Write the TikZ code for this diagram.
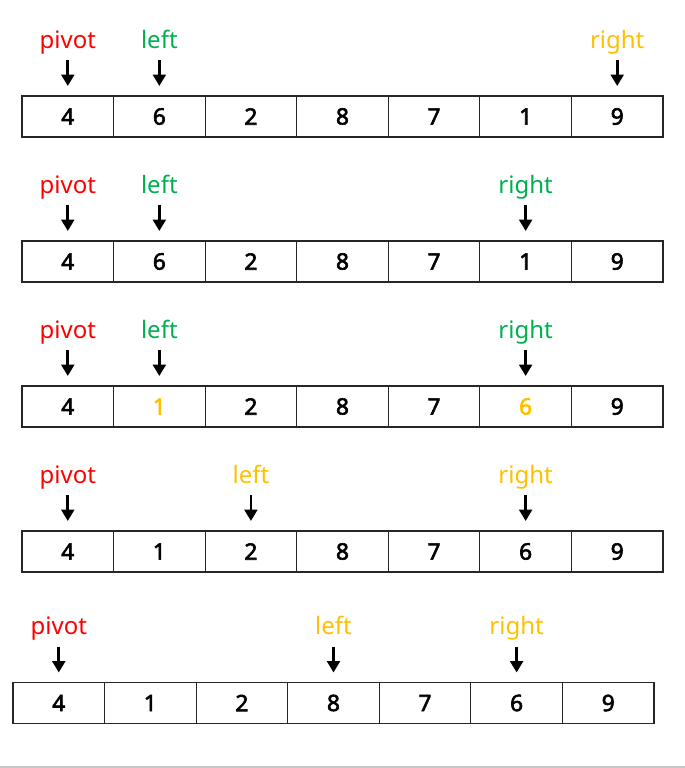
\documentclass[tikz,border=0pt]{standalone}
\usepackage{fontspec}
\setmainfont{Noto Sans}
\newfontfamily\cellfont{Noto Sans}[FakeBold=2.6]
\usetikzlibrary{positioning,arrows.meta,calc}

\definecolor{pivotred}{RGB}{255,0,0}
\definecolor{ptrgreen}{RGB}{0,176,80}
\definecolor{ptrorange}{RGB}{255,192,0}

\tikzset{
  cell/.style={draw=black!85, line width=0.9pt, outer sep=0pt, inner sep=0pt,
    minimum width=68.68pt, minimum height=30.75pt,
    font=\fontsize{17}{20}\cellfont},
  ptrlabel/.style={inner sep=0pt, anchor=base, font=\fontsize{18}{22}\selectfont},
  ptrarrow/.style={-{Triangle[width=9.5pt,length=8.5pt]}, line width=2.1pt,
    shorten <=9pt, shorten >=7.5pt}
}

\begin{document}
\begin{tikzpicture}[x=0.75pt,y=0.75pt,yscale=-1,xscale=1]
\useasboundingbox (0,0) rectangle (685,768);

%Row 1
\foreach \v [count=\i] in {4,6,2,8,7,1,9}
  \node[cell] (r1c\i) at ({22+91.57*(\i-0.5)},116.5) {\v};
\node[ptrlabel, text=pivotred] (r1p) at ($(r1c1.north)+(0,-48)$) {pivot};
\node[ptrlabel, text=ptrgreen] (r1l) at ($(r1c2.north)+(0,-48)$) {left};
\node[ptrlabel, text=ptrorange] (r1r) at ($(r1c7.north)+(0,-48)$) {right};
\draw[ptrarrow] (r1p.base) -- (r1c1.north);
\draw[ptrarrow] (r1l.base) -- (r1c2.north);
\draw[ptrarrow] (r1r.base) -- (r1c7.north);

%Row 2
\foreach \v [count=\i] in {4,6,2,8,7,1,9}
  \node[cell] (r2c\i) at ({22+91.57*(\i-0.5)},261.5) {\v};
\node[ptrlabel, text=pivotred] (r2p) at ($(r2c1.north)+(0,-48)$) {pivot};
\node[ptrlabel, text=ptrgreen] (r2l) at ($(r2c2.north)+(0,-48)$) {left};
\node[ptrlabel, text=ptrgreen] (r2r) at ($(r2c6.north)+(0,-48)$) {right};
\draw[ptrarrow] (r2p.base) -- (r2c1.north);
\draw[ptrarrow] (r2l.base) -- (r2c2.north);
\draw[ptrarrow] (r2r.base) -- (r2c6.north);

%Row 3 (swapped values)
\foreach \v [count=\i] in {4,{\color{ptrorange}1},2,8,7,{\color{ptrorange}6},9}
  \node[cell] (r3c\i) at ({22+91.57*(\i-0.5)},406.5) {\v};
\node[ptrlabel, text=pivotred] (r3p) at ($(r3c1.north)+(0,-48)$) {pivot};
\node[ptrlabel, text=ptrgreen] (r3l) at ($(r3c2.north)+(0,-48)$) {left};
\node[ptrlabel, text=ptrgreen] (r3r) at ($(r3c6.north)+(0,-48)$) {right};
\draw[ptrarrow] (r3p.base) -- (r3c1.north);
\draw[ptrarrow] (r3l.base) -- (r3c2.north);
\draw[ptrarrow] (r3r.base) -- (r3c6.north);

%Row 4
\foreach \v [count=\i] in {4,1,2,8,7,6,9}
  \node[cell] (r4c\i) at ({22+91.57*(\i-0.5)},551.5) {\v};
\node[ptrlabel, text=pivotred] (r4p) at ($(r4c1.north)+(0,-48)$) {pivot};
\node[ptrlabel, text=ptrorange] (r4l) at ($(r4c3.north)+(0,-48)$) {left};
\node[ptrlabel, text=ptrorange] (r4r) at ($(r4c6.north)+(0,-48)$) {right};
\draw[ptrarrow] (r4p.base) -- (r4c1.north);
\draw[ptrarrow] (r4l.base) -- (r4c3.north);
\draw[ptrarrow] (r4r.base) -- (r4c6.north);

%Row 5
\foreach \v [count=\i] in {4,1,2,8,7,6,9}
  \node[cell] (r5c\i) at ({13+91.57*(\i-0.5)},703) {\v};
\node[ptrlabel, text=pivotred] (r5p) at ($(r5c1.north)+(0,-48)$) {pivot};
\node[ptrlabel, text=ptrorange] (r5l) at ($(r5c4.north)+(0,-48)$) {left};
\node[ptrlabel, text=ptrorange] (r5r) at ($(r5c6.north)+(0,-48)$) {right};
\draw[ptrarrow] (r5p.base) -- (r5c1.north);
\draw[ptrarrow] (r5l.base) -- (r5c4.north);
\draw[ptrarrow] (r5r.base) -- (r5c6.north);

%bottom rule
\fill[black!22] (0,766) rectangle (685,768);

\end{tikzpicture}
\end{document}
